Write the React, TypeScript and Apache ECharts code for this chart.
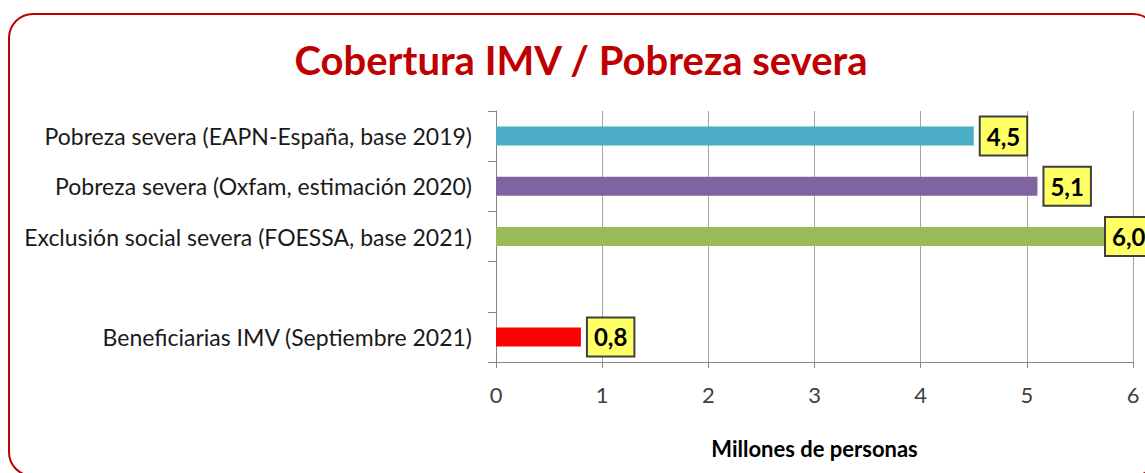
import React, { useEffect, useRef } from "react";
import * as echarts from "echarts";

const categories = [
  "Pobreza severa (EAPN-España, base 2019)",
  "Pobreza severa (Oxfam, estimación 2020)",
  "Exclusión social severa (FOESSA, base 2021)",
  "",
  "Beneficiarias IMV (Septiembre 2021)",
];
const values: (number | null)[] = [4.5, 5.1, 6.0, null, 0.8];
const barColors = ["#4BACC6", "#8064A2", "#9BBB59", "#FF0000", "#FF0000"];
const xTicks = [0, 1, 2, 3, 4, 5, 6];
const titleText = "Cobertura IMV / Pobreza severa";
const xAxisName = "Millones de personas";

const FONT = "Lato, 'Open Sans', sans-serif";

export default function App() {
  const ref = useRef<HTMLDivElement>(null);
  useEffect(() => {
    document.body.style.margin = "0";
    document.body.style.overflow = "hidden";
    const chart = echarts.init(ref.current!, null, { renderer: "svg" });
    const maxV = xTicks[xTicks.length - 1];
    chart.setOption({
      animation: false,
      backgroundColor: "#ffffff",
      textStyle: { fontFamily: FONT },
      graphic: [
        {
          type: "rect",
          shape: { x: 9, y: 14, width: 1148, height: 462, r: 24 },
          style: { fill: "none", stroke: "#C00000", lineWidth: 2 },
          z: 0,
        },
        {
          type: "text",
          x: 581,
          y: 60,
          style: {
            text: titleText,
            fontFamily: FONT,
            fontWeight: "bold",
            fontSize: 40,
            fill: "#C00000",
            align: "center",
            verticalAlign: "middle",
          },
        },
      ],
      grid: { left: 496, right: 12, top: 111, bottom: 111, containLabel: false },
      xAxis: {
        type: "value",
        min: xTicks[0],
        max: maxV,
        interval: 1,
        name: xAxisName,
        nameLocation: "middle",
        nameGap: 75,
        nameTextStyle: { fontFamily: FONT, fontWeight: "bold", fontSize: 22, color: "#000" },
        axisLine: { show: true, lineStyle: { color: "#868686", width: 1 } },
        axisTick: { show: true, length: 6, lineStyle: { color: "#868686" } },
        splitLine: { show: true, lineStyle: { color: "#A6A6A6", width: 1 } },
        axisLabel: { fontFamily: FONT, fontSize: 22, color: "#404040", margin: 21 },
      },
      yAxis: {
        type: "category",
        inverse: true,
        data: categories,
        axisLine: { show: true, lineStyle: { color: "#868686", width: 1 } },
        axisTick: { show: true, length: 8, lineStyle: { color: "#868686" } },
        axisLabel: { fontFamily: FONT, fontSize: 23, color: "#1a1a1a", margin: 24 },
      },
      series: [
        {
          type: "bar",
          barWidth: 19,
          data: values.map((v, i) =>
            v === null
              ? "-"
              : {
                  value: v,
                  itemStyle: { color: barColors[i] },
                  ...(v >= maxV ? { label: { offset: [-34, 0] } } : {}),
                }
          ),
          label: {
            show: true,
            position: "right",
            distance: 7,
            formatter: (p: any) => String(p.value.toFixed(1)).replace(".", ","),
            fontFamily: FONT,
            fontWeight: "bold",
            fontSize: 24,
            lineHeight: 24,
            color: "#000",
            backgroundColor: "#FFFF66",
            borderColor: "#3F3F3F",
            borderWidth: 2,
            padding: [7, 6, 6, 6],
          },
        },
      ],
    });
    return () => chart.dispose();
  }, []);
  return <div ref={ref} style={{ width: 1145, height: 473 }} />;
}
